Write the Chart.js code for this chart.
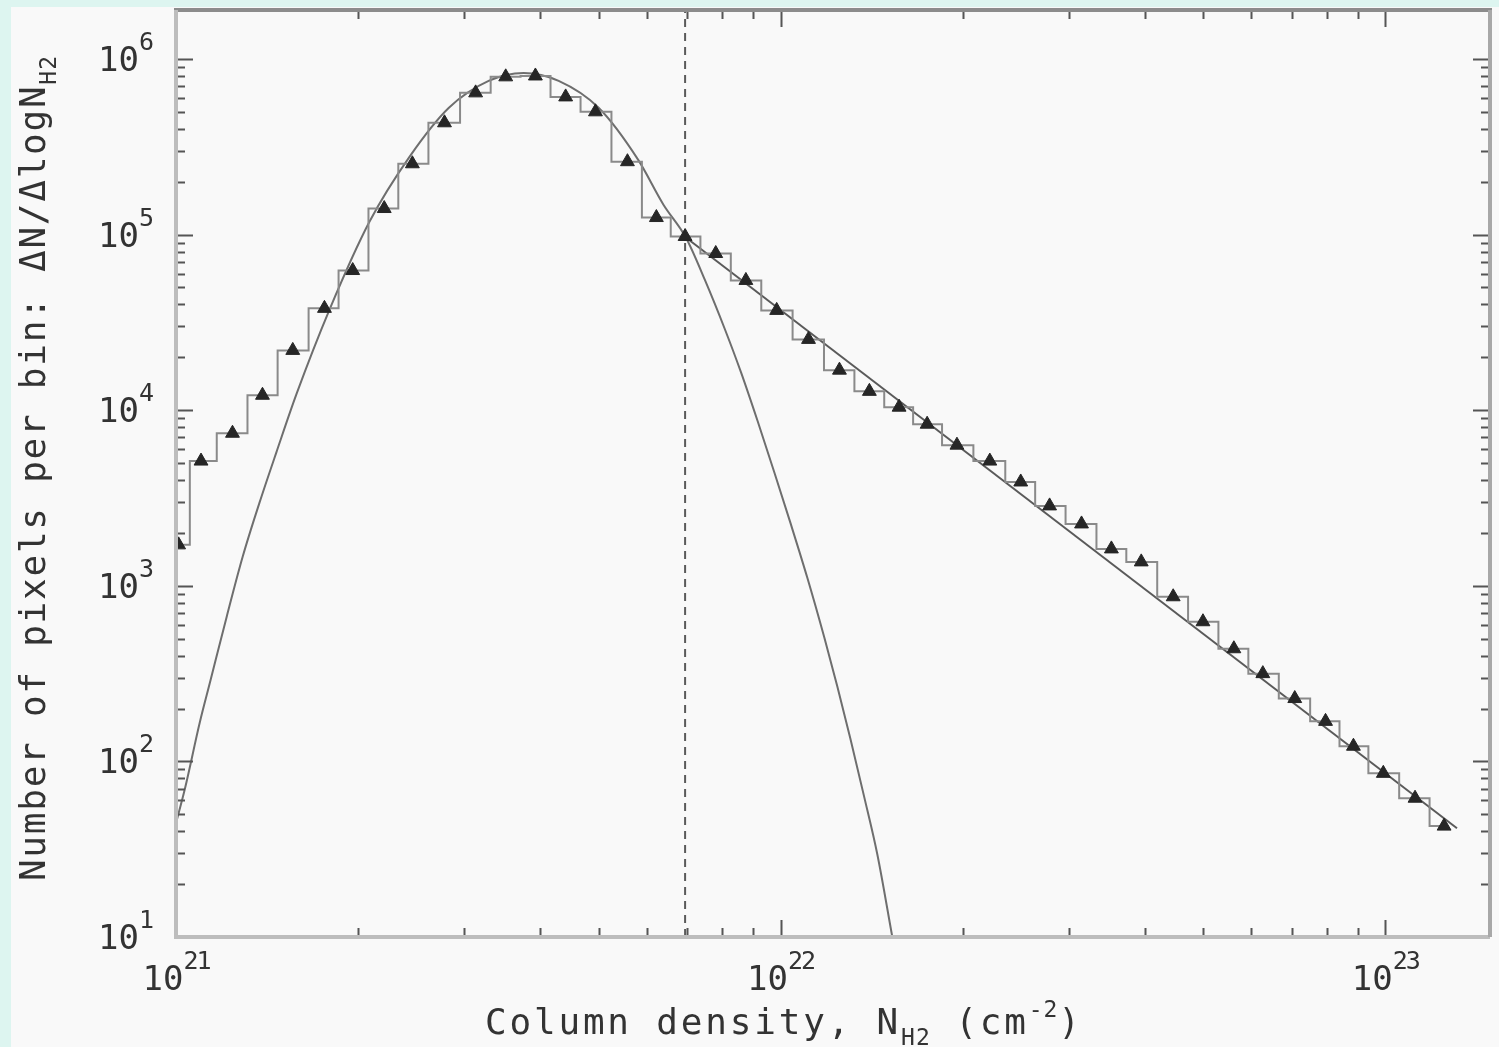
<!DOCTYPE html>
<html>
<head>
<meta charset="utf-8">
<script src="https://cdn.jsdelivr.net/npm/chart.js@4.4.0/dist/chart.umd.min.js"></script>
<style>
  html, body { margin: 0; padding: 0; background: #ddf5f0; }
  #wrap { position: absolute; left: 0; top: 0; width: 1499px; height: 1047px; }
</style>
</head>
<body>
<div id="wrap"><canvas id="pdfChart"></canvas></div>
<script>
// histogram of column density (triangles + step line)
const histN = [
    1.01e21, 1.10e21, 1.24e21, 1.39e21, 1.56e21, 1.76e21, 1.96e21, 2.21e21, 2.46e21, 2.78e21,
    3.13e21, 3.51e21, 3.93e21, 4.41e21, 4.94e21, 5.58e21, 6.23e21, 6.95e21, 7.81e21, 8.76e21,
    9.85e21, 1.112e22, 1.251e22, 1.402e22, 1.570e22, 1.747e22, 1.957e22, 2.218e22, 2.495e22, 2.785e22,
    3.145e22, 3.524e22, 3.948e22, 4.459e22, 4.994e22, 5.618e22, 6.273e22, 7.084e22, 7.965e22, 8.858e22,
    9.925e22, 1.120e23, 1.251e23
];
const histCounts = [
    1710, 5130, 7390, 12160, 21900, 38000, 62400, 140700, 253000, 433000,
    641000, 791000, 800000, 608000, 500000, 260000, 125000, 97500, 78000, 54800,
    37000, 25300, 16900, 12800, 10400, 8320, 6320, 5130, 3900, 2850,
    2250, 1622, 1368, 866, 624, 438, 316, 228, 169, 122,
    85.5, 61.7, 42.8
];

// log-normal fit, points
const fitN = [
    1.000e21, 1.035e21, 1.095e21, 1.138e21, 1.213e21, 1.289e21, 1.374e21, 1.466e21, 1.582e21, 1.795e21,
    2.090e21, 2.433e21, 2.827e21, 3.289e21, 3.758e21, 4.294e21, 5.00e21, 5.81e21, 6.40e21, 6.97e21,
    7.50e21, 8.09e21, 8.60e21, 9.16e21, 9.77e21, 1.038e22, 1.107e22, 1.181e22, 1.241e22, 1.304e22,
    1.374e22, 1.445e22, 1.53e22
];
const fitCounts = [
    44.5, 70.3, 167, 281, 667, 1462, 2965, 5770, 12330, 37500,
    118600, 277000, 527000, 750000, 832000, 750000, 527000, 267000, 148000, 96200,
    54800, 28800, 16400, 8670, 4390, 2280, 1110, 507, 267, 135,
    63.2, 29.6, 10
];

// power-law tail
const powerN = [6.97e21, 1.314e23];
const powerCounts = [96200, 41.6];

// threshold (dashed line)
const thresholdN = 6.95e21;

const xRange = [1e21, 1.49e23];
const yRange = [10, 1.9e6];
const xDecades = [21, 22, 23];
const yDecades = [1, 2, 3, 4, 5, 6];

const FONT = "'DejaVu Sans Mono', 'Liberation Mono', monospace";

function tickValues(decades, range) {
    const vals = [];
    decades.forEach((e) => {
        for (let m = 1; m <= 9; m++) {
            const v = m * Math.pow(10, e);
            if (v >= range[0] * 0.999 && v <= range[1] * 1.001) vals.push(v);
        }
    });
    return vals;
}

function isDecade(v) {
    const e = Math.round(Math.log10(v));
    return Math.abs(v - Math.pow(10, e)) < 1e-6 * v;
}

function exponentOf(v) {
    return String(Math.round(Math.log10(v)));
}

function toPoints(xs, ys) {
    return xs.map((x, i) => ({ x: x, y: ys[i] }));
}

// text pieces: {t, size, dy, sp}
function richWidth(ctx, parts) {
    let w = 0;
    parts.forEach((p) => {
        ctx.font = p.size + "px " + FONT;
        ctx.letterSpacing = (p.sp || 0) + "px";
        w += ctx.measureText(p.t).width;
    });
    return w;
}

function drawRich(ctx, parts, x, y) {
    let cx = x;
    parts.forEach((p) => {
        ctx.font = p.size + "px " + FONT;
        ctx.letterSpacing = (p.sp || 0) + "px";
        ctx.fillText(p.t, cx, y + (p.dy || 0));
        cx += ctx.measureText(p.t).width;
    });
}

function tickLabel(v) {
    return [
        { t: "10", size: 34, dy: 0, sp: 0 },
        { t: exponentOf(v), size: 25, dy: -21, sp: -2 }
    ];
}

const frameAndTicks = {
    id: "frameAndTicks",
    beforeDraw(chart) {
        const ctx = chart.ctx;
        ctx.save();
        ctx.fillStyle = "#ddf5f0";
        ctx.fillRect(0, 0, chart.width, chart.height);
        ctx.fillStyle = "#f9f9f9";
        ctx.fillRect(11, 7, chart.width - 11, chart.height - 7);
        ctx.restore();
    },
    afterDraw(chart) {
        const ctx = chart.ctx;
        const a = chart.chartArea;
        const xs = chart.scales.x;
        const ys = chart.scales.y;
        ctx.save();
        ctx.strokeStyle = "#555";
        ctx.lineWidth = 2;
        ctx.beginPath();
        xs.ticks.forEach((t) => {
            const px = Math.round(xs.getPixelForValue(t.value)) + 0.5;
            const len = isDecade(t.value) ? 17 : 9;
            ctx.moveTo(px, a.bottom);
            ctx.lineTo(px, a.bottom - len);
            ctx.moveTo(px, a.top);
            ctx.lineTo(px, a.top + len);
        });
        ys.ticks.forEach((t) => {
            const py = Math.round(ys.getPixelForValue(t.value)) + 0.5;
            const len = isDecade(t.value) ? 17 : 9;
            ctx.moveTo(a.left, py);
            ctx.lineTo(a.left + len, py);
            ctx.moveTo(a.right, py);
            ctx.lineTo(a.right - len, py);
        });
        ctx.stroke();

        // frame
        ctx.lineWidth = 4;
        ctx.strokeStyle = "#8c8c8c";
        ctx.beginPath();
        ctx.moveTo(a.left - 2, a.top);
        ctx.lineTo(a.right + 2, a.top);
        ctx.stroke();
        ctx.strokeStyle = "#bdbdbd";
        ctx.beginPath();
        ctx.moveTo(a.left, a.top);
        ctx.lineTo(a.left, a.bottom);
        ctx.lineTo(a.right, a.bottom);
        ctx.stroke();
        ctx.strokeStyle = "#a8a8a8";
        ctx.beginPath();
        ctx.moveTo(a.right, a.top);
        ctx.lineTo(a.right, a.bottom);
        ctx.stroke();

        // tick labels
        ctx.fillStyle = "#333";
        ctx.textBaseline = "alphabetic";
        ctx.textAlign = "left";
        xs.ticks.forEach((t) => {
            if (!isDecade(t.value)) return;
            const parts = tickLabel(t.value);
            const w = richWidth(ctx, parts);
            drawRich(ctx, parts, xs.getPixelForValue(t.value) - w / 2, 990);
        });
        ys.ticks.forEach((t) => {
            if (!isDecade(t.value)) return;
            const parts = tickLabel(t.value);
            const w = richWidth(ctx, parts);
            drawRich(ctx, parts, a.left - 24 - w, ys.getPixelForValue(t.value) + 12);
        });

        // axis titles
        const xTitle = [
            { t: "Column density, N", size: 36, sp: 2.8 },
            { t: "H2", size: 23, dy: 11, sp: 1 },
            { t: " (cm", size: 36, sp: 2.8 },
            { t: "-2", size: 23, dy: -17, sp: 1 },
            { t: ")", size: 36, sp: 2.8 }
        ];
        drawRich(ctx, xTitle, 485, 1034);

        const yTitle = [
            { t: "Number of pixels per bin: ΔN/ΔlogN", size: 36, sp: 1.75 },
            { t: "H2", size: 23, dy: 11, sp: 1 }
        ];
        const w = richWidth(ctx, yTitle);
        ctx.translate(45, 468);
        ctx.rotate(-Math.PI / 2);
        drawRich(ctx, yTitle, -w / 2, 0);
        ctx.restore();
    }
};

const ctx = document.getElementById("pdfChart");

new Chart(ctx, {
    type: "line",
    data: {
        datasets: [
            {
                label: "histogram",
                data: toPoints(histN, histCounts),
                stepped: "middle",
                borderColor: "#8a8a8a",
                borderWidth: 2,
                pointStyle: "triangle",
                pointRadius: 8,
                pointBackgroundColor: "#262626",
                pointBorderColor: "#262626",
                pointBorderWidth: 1
            },
            {
                label: "power law",
                data: toPoints(powerN, powerCounts),
                borderColor: "#5a5a5a",
                borderWidth: 2,
                pointRadius: 0
            },
            {
                label: "log-normal",
                data: toPoints(fitN, fitCounts),
                borderColor: "#6e6e6e",
                borderWidth: 2,
                pointRadius: 0,
                cubicInterpolationMode: "monotone"
            },
            {
                label: "threshold",
                data: toPoints([thresholdN, thresholdN], yRange),
                borderColor: "#5a5a5a",
                borderWidth: 2,
                borderDash: [8, 6],
                pointRadius: 0
            }
        ]
    },
    options: {
        responsive: true,
        maintainAspectRatio: false,
        animation: false,
        devicePixelRatio: 1,
        layout: { padding: { left: 0, top: 10, right: 4, bottom: 0 } },
        plugins: {
            legend: { display: false },
            tooltip: { enabled: false }
        },
        scales: {
            x: {
                type: "logarithmic",
                min: xRange[0],
                max: xRange[1],
                grid: { display: false, drawTicks: false },
                border: { display: false },
                afterBuildTicks: (scale) => {
                    scale.ticks = tickValues(xDecades, xRange).map((v) => ({ value: v }));
                },
                afterFit: (scale) => {
                    scale.height = 110;
                    scale.paddingLeft = 0;
                    scale.paddingRight = 0;
                },
                ticks: {
                    display: false,
                    autoSkip: false,
                    callback: (v) => (isDecade(v) ? "10^" + exponentOf(v) : "")
                }
            },
            y: {
                type: "logarithmic",
                min: yRange[0],
                max: yRange[1],
                grid: { display: false, drawTicks: false },
                border: { display: false },
                afterBuildTicks: (scale) => {
                    scale.ticks = tickValues(yDecades, yRange).map((v) => ({ value: v }));
                },
                afterFit: (scale) => {
                    scale.width = 176;
                    scale.paddingTop = 0;
                    scale.paddingBottom = 0;
                },
                ticks: {
                    display: false,
                    autoSkip: false,
                    callback: (v) => (isDecade(v) ? "10^" + exponentOf(v) : "")
                }
            }
        }
    },
    plugins: [frameAndTicks]
});
</script>
</body>
</html>
